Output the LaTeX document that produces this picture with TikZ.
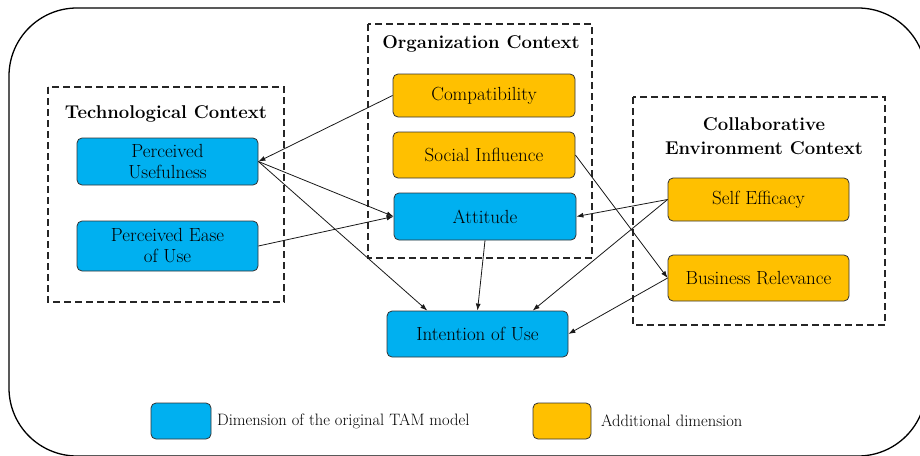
\documentclass[tikz,border=0pt]{standalone}
\usetikzlibrary{arrows.meta}
\definecolor{tamblue}{HTML}{00B0F0}
\definecolor{tamyellow}{HTML}{FFC000}
\tikzset{
  dimbox/.style={rectangle, rounded corners=5pt, draw=black!80, line width=0.8pt,
    inner sep=0pt, align=center, font=\fontsize{19}{21}\selectfont},
  bluebox/.style={dimbox, fill=tamblue},
  yellowbox/.style={dimbox, fill=tamyellow},
  ctxbox/.style={draw=black!85, line width=1.2pt, dash pattern=on 7pt off 4pt},
  ctxtitle/.style={font=\bfseries\fontsize{18.5}{24}\selectfont, align=center, inner sep=0pt},
  conn/.style={draw=black!90, line width=0.8pt, -{Latex[length=7pt,width=5pt]}},
  legtext/.style={font=\fontsize{16.5}{18}\selectfont, anchor=west, inner sep=0pt}
}
\begin{document}
\begin{tikzpicture}[x=1pt,y=-1pt]
\useasboundingbox (0,0) rectangle (920,455);
\begin{scope}
\clip (0,0) rectangle (920,455);
\draw[line width=1.3pt, rounded corners=68pt] (9,8) rectangle (926,456);
\end{scope}

% context boxes
\draw[ctxbox] (48,87) rectangle (284,302);
\draw[ctxbox] (368,24) rectangle (592,258);
\draw[ctxbox] (633,97) rectangle (885,325);
\node[ctxtitle] (tctx) at (166,114) {Technological Context};
\node[ctxtitle] (octx) at (481,44) {Organization Context};
\node[ctxtitle] (cctx) at (764,136) {Collaborative\\Environment Context};

% dimension boxes
\node[bluebox, minimum width=181pt, minimum height=47pt] (pu) at (167.5,161.5) {Perceived\\Usefulness};
\node[bluebox, minimum width=181pt, minimum height=50pt] (peou) at (167.5,246) {Perceived Ease\\of Use};
\node[yellowbox, minimum width=182pt, minimum height=43pt] (comp) at (484,95.5) {Compatibility};
\node[yellowbox, minimum width=182pt, minimum height=46pt] (soc) at (484,155) {Social Influence};
\node[bluebox, minimum width=182pt, minimum height=47pt] (att) at (485,216.5) {Attitude};
\node[yellowbox, minimum width=181pt, minimum height=43pt] (se) at (758.5,199.5) {Self Efficacy};
\node[yellowbox, minimum width=181pt, minimum height=46pt] (br) at (758.5,278) {Business Relevance};
\node[bluebox, minimum width=181pt, minimum height=46pt] (int) at (477.5,334) {Intention of Use};

% connectors
\draw[conn] (comp.west) -- (pu.east);
\draw[conn] (pu.east) -- (att.west);
\draw[conn] (peou.east) -- (att.west);
\draw[conn] (pu.east) -- (int.155);
\draw[conn] (att.south) -- (int.north);
\draw[conn] (se.west) -- (att.east);
\draw[conn] (se.west) -- (int.23);
\draw[conn] (soc.east) -- (br.west);
\draw[conn] (br.west) -- (int.east);

% legend
\node[bluebox, minimum width=60pt, minimum height=36pt] (legb) at (181,421) {};
\node[legtext] (legbt) at (217,421) {Dimension of the original TAM model};
\node[yellowbox, minimum width=58pt, minimum height=36pt] (legy) at (562,421) {};
\node[legtext] (legyt) at (601,421) {Additional dimension};
\end{tikzpicture}
\end{document}
